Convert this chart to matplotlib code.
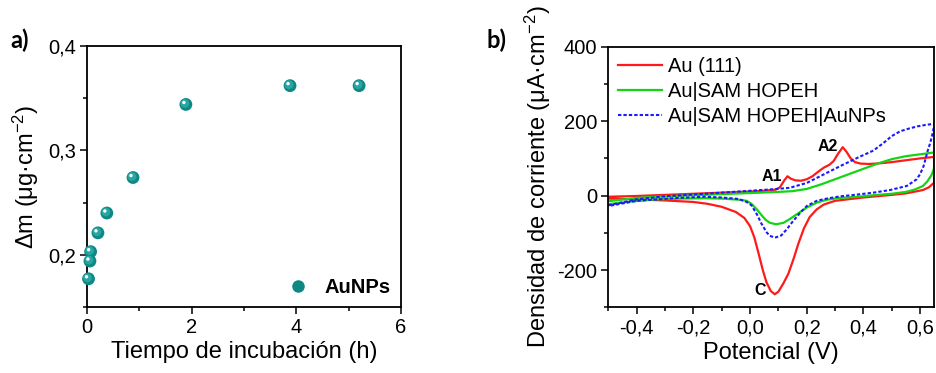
import matplotlib
matplotlib.use("Agg")
import matplotlib.pyplot as plt
from matplotlib.ticker import MultipleLocator, FuncFormatter
from matplotlib.transforms import offset_copy
from matplotlib.lines import Line2D

plt.rcParams['font.family'] = ['Liberation Sans', 'DejaVu Sans']
plt.rcParams['mathtext.fontset'] = 'custom'
plt.rcParams['mathtext.rm'] = 'Liberation Sans'
plt.rcParams['mathtext.it'] = 'Liberation Sans:italic'
plt.rcParams['mathtext.bf'] = 'Liberation Sans:bold'

# ---- panel a: mass uptake vs incubation time ----
time_h = [0.03, 0.057, 0.07, 0.21, 0.38, 0.88, 1.89, 3.88, 5.2]
delta_m = [0.177, 0.194, 0.203, 0.221, 0.240, 0.274, 0.344, 0.362, 0.362]

# ---- panel b: cyclic voltammograms (anodic sweep then cathodic sweep) ----
au_E = [-0.5, -0.4, -0.3, -0.2, -0.1, 0.0, 0.05, 0.09, 0.105, 0.12, 0.132, 0.145,
        0.16, 0.18, 0.2, 0.22, 0.24, 0.26, 0.28, 0.295, 0.31, 0.327, 0.34, 0.355,
        0.37, 0.39, 0.42, 0.46, 0.5, 0.55, 0.6, 0.65,
        0.65, 0.63, 0.61, 0.55, 0.5, 0.4, 0.3, 0.26, 0.235, 0.21, 0.19, 0.17,
        0.153, 0.135, 0.118, 0.1, 0.087, 0.073, 0.058, 0.045, 0.03, 0.015, 0.0,
        -0.02, -0.05, -0.1, -0.15, -0.2, -0.3, -0.4, -0.5]
au_j = [-3, -1, 2, 5, 8, 11, 13, 16, 22, 40, 52, 45,
        41, 40, 44, 52, 64, 75, 83, 93, 112, 130, 118, 100,
        90, 86, 85, 87, 90, 95, 100, 104,
        35, 22, 15, 6, 2, -5, -14, -24, -37, -58, -88, -130,
        -171, -210, -235, -258, -265, -256, -233, -200, -155, -112, -82,
        -60, -44, -30, -22, -17, -13, -10, -8]

sam_E = [-0.5, -0.4, -0.3, -0.2, -0.1, 0.0, 0.1, 0.15, 0.2, 0.25, 0.3, 0.35, 0.4,
         0.45, 0.5, 0.55, 0.6, 0.65,
         0.65, 0.64, 0.625, 0.61, 0.58, 0.55, 0.5, 0.435, 0.38, 0.32, 0.27, 0.235,
         0.2, 0.165, 0.14, 0.118, 0.092, 0.07, 0.055, 0.04, 0.024, 0.005, -0.012,
         -0.04, -0.1, -0.16, -0.25, -0.33, -0.42, -0.5]
sam_j = [-15, -6, -2, 1, 4, 7, 10, 12, 18, 30, 44, 58, 72,
         86, 98, 106, 111, 116,
         75, 55, 38, 26, 16, 10, 5, 1, -3, -6, -11, -19,
         -32, -50, -63, -73, -77, -73, -65, -52, -37, -22, -14,
         -11, -8, -7, -8, -10, -16, -23]

np_E = [-0.5, -0.4, -0.3, -0.2, -0.1, 0.0, 0.08, 0.14, 0.2, 0.26, 0.32, 0.38,
        0.435, 0.47, 0.5, 0.53, 0.56, 0.59, 0.62, 0.65,
        0.645, 0.635, 0.628, 0.612, 0.6, 0.588, 0.553, 0.494, 0.435, 0.38, 0.318,
        0.27, 0.235, 0.2, 0.177, 0.15, 0.13, 0.11, 0.088, 0.07, 0.059, 0.04,
        0.024, 0.005, -0.012, -0.04, -0.1, -0.16, -0.25, -0.4, -0.5]
np_j = [-26, -10, -2, 3, 8, 13, 17, 21, 34, 57, 80, 102,
        121, 141, 160, 173, 180, 186, 190, 193,
        170, 140, 124, 79, 58, 44, 26, 15, 8, 3, -2,
        -8, -14, -28, -46, -70, -90, -107, -113, -108, -99, -75,
        -50, -26, -17, -9, -5, -3, -6, -14, -28]

series_labels = ['Au (111)', 'Au|SAM HOPEH', 'Au|SAM HOPEH|AuNPs']
peak_labels = ['A1', 'A2', 'C']
peak_E = [0.077, 0.274, 0.035]
peak_j = [52, 133, -255]


def comma(v, _pos):
    return f"{v:.1f}".replace('.', ',')


fig = plt.figure(figsize=(9.36, 3.73), dpi=100)
ax1 = fig.add_axes([0.0929, 0.177, 0.3355, 0.6997])
ax2 = fig.add_axes([0.6499, 0.1761, 0.3483, 0.6987])

tick_kw = dict(direction='out', labelsize=14.5, width=1.1, color='black')
for ax in (ax1, ax2):
    for sp in ax.spines.values():
        sp.set_linewidth(1.3)
    ax.tick_params(which='major', length=5, pad=3, **tick_kw)
    ax.tick_params(which='minor', length=3, direction='out', width=1.1)

# shaded spheres for panel a
teal = '#0f8783'
ax1.scatter(time_h, delta_m, s=85, color=teal, edgecolors='none', zorder=3, clip_on=False)
ax1.scatter(time_h, delta_m, s=40, color='#27a7a2', edgecolors='none', zorder=4,
            clip_on=False, transform=offset_copy(ax1.transData, fig=fig, x=-1, y=1, units='dots'))
ax1.scatter(time_h, delta_m, s=6, color='white', edgecolors='none', zorder=5,
            clip_on=False, transform=offset_copy(ax1.transData, fig=fig, x=-2, y=2, units='dots'))
ax1.set_xlim(0, 6)
ax1.set_ylim(0.15, 0.4)
ax1.xaxis.set_major_locator(MultipleLocator(2))
ax1.xaxis.set_minor_locator(MultipleLocator(1))
ax1.yaxis.set_major_locator(MultipleLocator(0.1))
ax1.yaxis.set_minor_locator(MultipleLocator(0.05))
ax1.yaxis.set_major_formatter(FuncFormatter(comma))
ax1.set_xlabel('Tiempo de incubación (h)', fontsize=17, labelpad=3)
ax1.set_ylabel(r'Δm (μg·cm$^{-2}$)', fontsize=17, labelpad=5)
handle = Line2D([], [], ls='none', marker='o', ms=9, color=teal, mec='none')
ax1.legend([handle], ['AuNPs'], loc='lower right', frameon=False,
           prop={'weight': 'bold', 'size': 14.5}, handlelength=1.2, handletextpad=0.75,
           borderaxespad=0.1, bbox_to_anchor=(1.0, 0.0))

# panel b
ax2.plot(au_E, au_j, color='#ff1a1a', lw=1.6, label=series_labels[0])
ax2.plot(sam_E, sam_j, color='#14d414', lw=1.6, label=series_labels[1])
ax2.plot(np_E, np_j, color='#1a1aff', lw=1.5, ls=(0, (1.6, 1.0)), label=series_labels[2])
for lab, e, j in zip(peak_labels, peak_E, peak_j):
    ax2.text(e, j, lab, fontsize=11.5, fontweight='bold', ha='center', va='center')
ax2.set_xlim(-0.5, 0.65)
ax2.set_ylim(-300, 400)
ax2.xaxis.set_major_locator(MultipleLocator(0.2))
ax2.xaxis.set_minor_locator(MultipleLocator(0.1))
ax2.xaxis.set_major_formatter(FuncFormatter(comma))
ax2.yaxis.set_major_locator(MultipleLocator(200))
ax2.yaxis.set_minor_locator(MultipleLocator(100))
ax2.yaxis.set_major_formatter(FuncFormatter(lambda v, p: f"{v:.0f}"))
ax2.set_xlabel('Potencial (V)', fontsize=17, labelpad=3)
ax2.set_ylabel(r'Densidad de corriente (μA·cm$^{-2}$)', fontsize=17, labelpad=3)
ax2.legend(loc='upper left', frameon=False, fontsize=14.5, handlelength=2.15,
           handletextpad=0.3, labelspacing=0.3, borderaxespad=0.1)

fig.text(0.011, 0.87, 'a)', fontsize=17, fontweight='bold', family='Lato')
fig.text(0.52, 0.87, 'b)', fontsize=17, fontweight='bold', family='Lato')

fig.savefig('out.png', dpi=100)
